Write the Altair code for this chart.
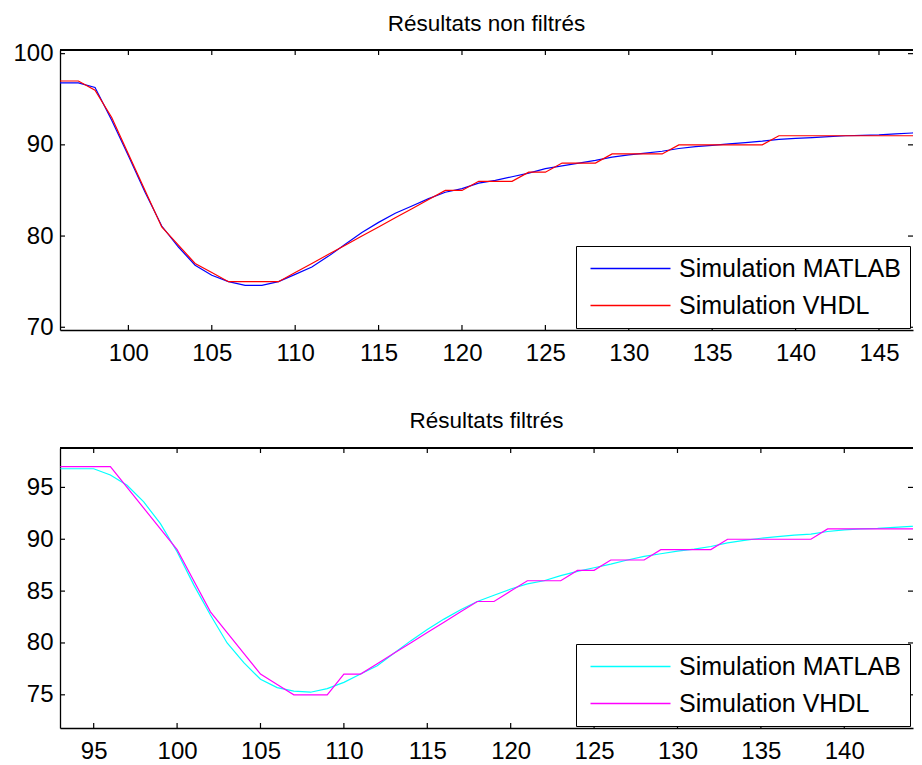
import altair as alt
import pandas as pd

names = ["Simulation MATLAB", "Simulation VHDL"]

# ---- top panel: Résultats non filtrés ----
x_top = list(range(95, 149))
matlab_top = [96.8, 96.8, 96.8, 96.3, 92.7, 88.8, 84.8, 81.1, 78.8, 76.8,
              75.7, 75.0, 74.6, 74.6, 75.0, 75.8, 76.6, 77.8, 79.1, 80.4,
              81.5, 82.5, 83.3, 84.1, 84.8, 85.2, 85.8, 86.1, 86.5, 86.9,
              87.4, 87.7, 88.0, 88.3, 88.65, 88.9, 89.1, 89.3, 89.6, 89.8,
              89.95, 90.1, 90.25, 90.4, 90.6, 90.7, 90.8, 90.9, 91.0, 91.05,
              91.1, 91.2, 91.3, 91.4]
vhdl_top = [97, 97, 97, 96, 93, 89, 85, 81, 79, 77,
            76, 75, 75, 75, 75, 76, 77, 78, 79, 80,
            81, 82, 83, 84, 85, 85, 86, 86, 86, 87,
            87, 88, 88, 88, 89, 89, 89, 89, 90, 90,
            90, 90, 90, 90, 91, 91, 91, 91, 91, 91,
            91, 91, 91, 91]
xticks_top = [100, 105, 110, 115, 120, 125, 130, 135, 140, 145]
yticks_top = [70, 80, 90, 100]

# ---- bottom panel: Résultats filtrés ----
x_bot = list(range(93, 146))
matlab_bot = [96.8, 96.8, 96.8, 96.2, 95.2, 93.6, 91.5, 88.8, 85.6, 82.7,
              80.0, 78.1, 76.5, 75.7, 75.35, 75.25, 75.6, 76.2, 77.0, 77.8,
              79.0, 80.2, 81.3, 82.3, 83.2, 84.0, 84.6, 85.2, 85.7, 86.0,
              86.5, 86.9, 87.25, 87.6, 88.0, 88.35, 88.6, 88.85, 89.05, 89.3,
              89.65, 89.9, 90.1, 90.25, 90.4, 90.5, 90.75, 90.9, 91.0, 91.05,
              91.15, 91.25, 91.3]
vhdl_bot = [97, 97, 97, 97, 95, 93, 91, 89, 86, 83,
            81, 79, 77, 76, 75, 75, 75, 77, 77, 78,
            79, 80, 81, 82, 83, 84, 84, 85, 86, 86,
            86, 87, 87, 88, 88, 88, 89, 89, 89, 89,
            90, 90, 90, 90, 90, 90, 91, 91, 91, 91,
            91, 91, 91]
xticks_bot = [95, 100, 105, 110, 115, 120, 125, 130, 135, 140]
yticks_bot = [75, 80, 85, 90, 95]

W, H = 853, 280
FONT = "Liberation Sans"
TL = 5  # inner tick length
FW = 1.3  # frame width


def panel(title, xs, s1, s2, colors, xdom, ydom, xt, yt, toff):
    n = len(xs)
    df = pd.DataFrame({"x": xs * 2, "y": s1 + s2,
                       "serie": [names[0]] * n + [names[1]] * n})
    xsc = alt.Scale(domain=xdom, nice=False, zero=False)
    ysc = alt.Scale(domain=ydom, nice=False, zero=False)
    xax = alt.Axis(values=xt, title=None, ticks=False, domain=True,
                   domainColor="black", domainWidth=FW,
                   grid=False, labelFontSize=24, labelFont=FONT,
                   labelColor="black", labelPadding=11, labelFlush=False)
    yax = alt.Axis(values=yt, title=None, ticks=False, domain=True,
                   domainColor="black", domainWidth=FW,
                   grid=False, labelFontSize=24, labelFont=FONT,
                   labelColor="black", labelPadding=7, labelFlush=False)
    xenc = alt.X("x:Q", scale=xsc, axis=xax)
    yenc = alt.Y("y:Q", scale=ysc, axis=yax)
    lines = alt.Chart(df).mark_line(clip=True, strokeWidth=1.2).encode(
        x=xenc,
        y=yenc,
        color=alt.Color("serie:N",
                        scale=alt.Scale(domain=names, range=colors),
                        legend=alt.Legend(orient="none", legendX=516, legendY=196,
                                          title=None, fillColor="white",
                                          strokeColor="black", padding=9,
                                          symbolType="M-3.2,0H3.2", symbolSize=625,
                                          symbolStrokeWidth=1.4, symbolOffset=32,
                                          labelFontSize=25, labelFont=FONT,
                                          labelColor="black", labelOffset=35,
                                          labelLimit=500,
                                          rowPadding=10, cornerRadius=0)),
        detail="serie:N",
    )
    xdf = pd.DataFrame({"x": xt})
    ydf = pd.DataFrame({"y": yt})
    tick_style = dict(color="black", strokeWidth=1.2)
    frame_top = alt.Chart(xdf).mark_rule(color="black", strokeWidth=FW).encode(
        x=alt.value(0), x2=alt.value(W), y=alt.value(0))
    xt_top = alt.Chart(xdf).mark_rule(**tick_style).encode(
        x=xenc, y=alt.value(0), y2=alt.value(TL))
    xt_bot = alt.Chart(xdf).mark_rule(**tick_style).encode(
        x=xenc, y=alt.value(H - TL), y2=alt.value(H))
    yt_left = alt.Chart(ydf).mark_rule(**tick_style).encode(
        y=yenc, x=alt.value(0), x2=alt.value(TL))
    yt_right = alt.Chart(ydf).mark_rule(**tick_style).encode(
        y=yenc, x=alt.value(W - TL), x2=alt.value(W))
    return alt.layer(lines, frame_top, xt_top, xt_bot, yt_left, yt_right).properties(
        width=W, height=H,
        title=alt.TitleParams(title, fontSize=22.5, font=FONT, fontWeight="normal",
                              color="black", offset=toff, anchor="middle"),
    )


top = panel("Résultats non filtrés", x_top, matlab_top, vhdl_top,
            ["#0000FF", "#FF0000"], [95.9, 147.04], [69.7, 100.4],
            xticks_top, yticks_top, 6.6)
bot = panel("Résultats filtrés", x_bot, matlab_bot, vhdl_bot,
            ["#00FFFF", "#FF00FF"], [92.98, 144.12], [71.8, 98.8],
            xticks_bot, yticks_bot, 15)

chart = alt.vconcat(top, bot, spacing=44).resolve_scale(
    color="independent").resolve_legend(color="independent").properties(
    padding={"left": 4, "top": 4, "right": 0, "bottom": 0},
    background="white",
).configure_view(stroke=None)

chart.save("out.html", embed_options={"renderer": "svg", "actions": False})
